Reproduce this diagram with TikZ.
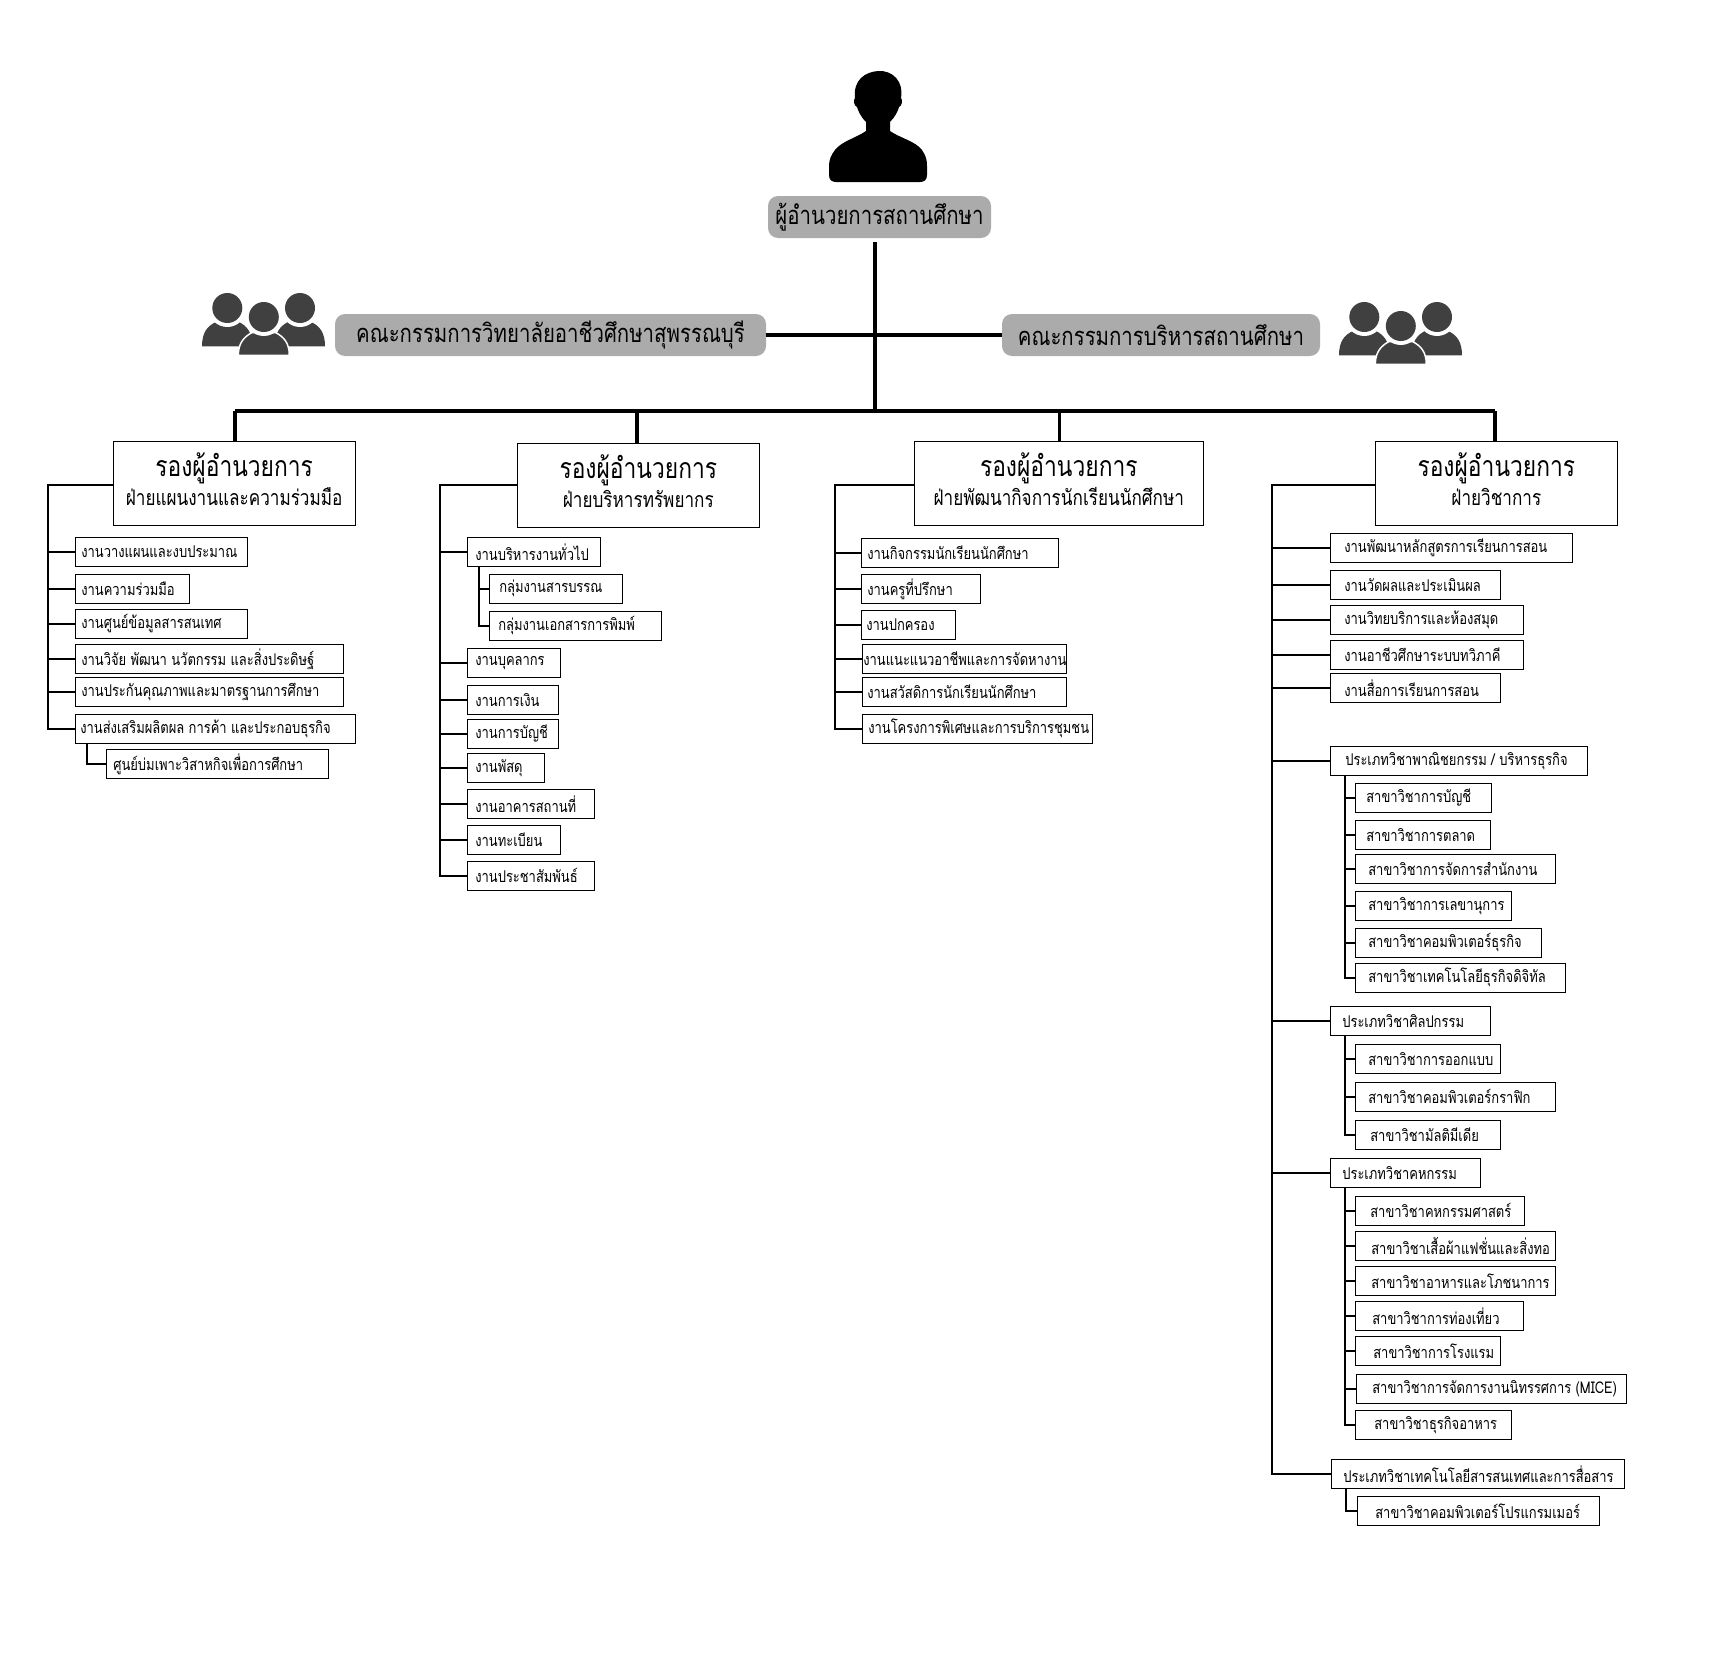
\documentclass[tikz,border=0pt]{standalone}
\usepackage{fontspec}
\newfontfamily\thaifont[Script=Thai,FakeStretch=0.8]{Loma}
\definecolor{boardgray}{HTML}{ABABAB}
\definecolor{peoplegray}{HTML}{404040}
\newcommand{\jobtext}[3]{\makebox[#1pt][l]{\hspace*{#2pt}#3}}
\tikzset{
	jobbox/.style={draw,line width=1pt,outer sep=0pt,inner sep=0pt,anchor=north west,minimum height=29pt,font=\thaifont\fontsize{16.2}{18}\selectfont},
	headbox/.style={draw,line width=1pt,outer sep=0pt,inner sep=0pt,anchor=north west,minimum height=84pt,align=center,text depth=7.5pt,font=\thaifont\fontsize{21.4}{29}\selectfont},
	boardbox/.style={fill=boardgray,rounded corners=10pt,outer sep=0pt,inner sep=0pt,anchor=north west,minimum height=42pt,font=\thaifont\fontsize{25.5}{28}\selectfont},
	mainline/.style={line width=3.3pt},
	branch/.style={line width=2.2pt},
	people/.pic={
		\fill[peoplegray] (0,53.3) .. controls (0,40) and (5,33) .. (14,29) -- (37,29) .. controls (45,33) and (50.6,40) .. (50.6,53.3) -- cycle;
		\fill[peoplegray] (72.7,53.3) .. controls (72.7,40) and (78,33) .. (86,29) -- (109,29) .. controls (118,33) and (123,40) .. (123,53.3) -- cycle;
		\fill[white] (25.3,15) circle (19);
		\fill[white] (98,15) circle (19);
		\fill[peoplegray] (25.3,15) circle (15);
		\fill[peoplegray] (98,15) circle (15);
		\filldraw[fill=peoplegray,draw=white,line width=1.5pt] (36.3,62.3) .. controls (36.3,50) and (42,44) .. (50,39.5) -- (73.5,39.5) .. controls (82,44) and (87.3,50) .. (87.3,62.3) -- cycle;
		\fill[white] (61.8,24) circle (19);
		\fill[peoplegray] (61.8,24) circle (15);
	}
}
\begin{document}
\begin{tikzpicture}[x=1pt,y=-1pt]
	\useasboundingbox (0,0) rectangle (1732,1675);
	% director
	\fill (866,122) .. controls (860,116) and (858,110) .. (857,107) .. controls (854,106) and (853,100) .. (855,98) .. controls (853,80) and (865,72) .. (878,71) .. controls (893,70) and (904,82) .. (901,98) .. controls (903,100) and (902,106) .. (899,107) .. controls (898,111) and (895,117) .. (890,122) -- (890,131) .. controls (900,138) and (915,141) .. (922,150) .. controls (926,156) and (927,160) .. (927,166) -- (927,175) .. controls (927,180) and (924,182) .. (920,182) -- (836,182) .. controls (832,182) and (829,180) .. (829,175) -- (829,166) .. controls (829,160) and (831,155) .. (835,150) .. controls (842,141) and (856,138) .. (866,131) -- cycle;
	\node[boardbox,minimum width=223pt] (director) at (768,196) {ผู้อำนวยการสถานศึกษา};
	% boards
	\node[boardbox,minimum width=431pt] (boardL) at (335,314) {คณะกรรมการวิทยาลัยอาชีวศึกษาสุพรรณบุรี};
	\node[boardbox,minimum width=318pt] (boardR) at (1002,314) {คณะกรรมการบริหารสถานศึกษา};
	\pic at (202,293) {people};
	\pic at (1339,302) {people};
	% spine
	\coordinate (spineTop) at (875,242);
	\coordinate (spineEnd) at (875,411);
	\coordinate (barL) at (235,411);
	\coordinate (barR) at (1495,411);
	\draw[mainline,line width=3.5pt] (spineTop) -- (spineEnd);
	\draw[mainline] (boardL.east) -- (boardR.west);
	\draw[mainline] (barL) -- (barR);
	% deputies
	\node[headbox,minimum width=241.7pt] (headA) at (113.3,441.3) {{\fontsize{28.5}{29}\selectfont รองผู้อำนวยการ}\\ฝ่ายแผนงานและความร่วมมือ};
	\node[headbox,minimum width=242pt] (headB) at (517.3,443.3) {{\fontsize{28.5}{29}\selectfont รองผู้อำนวยการ}\\ฝ่ายบริหารทรัพยากร};
	\node[headbox,minimum width=289pt] (headC) at (914.3,441.3) {{\fontsize{28.5}{29}\selectfont รองผู้อำนวยการ}\\ฝ่ายพัฒนากิจการนักเรียนนักศึกษา};
	\node[headbox,minimum width=242pt] (headD) at (1375.3,441.3) {{\fontsize{28.5}{29}\selectfont รองผู้อำนวยการ}\\ฝ่ายวิชาการ};
	\draw[mainline] (barL) -- (barL |- headA.north);
	\draw[mainline] (637,411) -- (637,443.3);
	\draw[mainline] (1059.5,411) -- (1059.5,441.3);
	\draw[mainline] (barR) -- (barR |- headD.north);
	% first column
	\node[jobbox] (a1) at (75.3,537.3) {\jobtext{172.4}{6}{งานวางแผนและงบประมาณ}};
	\node[jobbox] (a2) at (75.3,574.3) {\jobtext{114}{6}{งานความร่วมมือ}};
	\node[jobbox] (a3) at (75.3,609.3) {\jobtext{172.4}{6}{งานศูนย์ข้อมูลสารสนเทศ}};
	\node[jobbox] (a4) at (75.3,644.3) {\jobtext{268}{6}{งานวิจัย พัฒนา นวัตกรรม และสิ่งประดิษฐ์}};
	\node[jobbox] (a5) at (75.3,677.3) {\jobtext{268}{6}{งานประกันคุณภาพและมาตรฐานการศึกษา}};
	\node[jobbox] (a6) at (75.3,714.3) {\jobtext{280}{5}{งานส่งเสริมผลิตผล การค้า และประกอบธุรกิจ}};
	\node[jobbox] (a7) at (106.3,749.3) {\jobtext{222}{7}{ศูนย์บ่มเพาะวิสาหกิจเพื่อการศึกษา}};
	\coordinate (trunkA) at (48,0);
	\draw[branch] ([yshift=-1.7pt]headA.west) -| (trunkA |- a6.west) -- (a6.west);
	\draw[branch] (trunkA |- a1.west) -- (a1.west);
	\draw[branch] (trunkA |- a2.west) -- (a2.west);
	\draw[branch] (trunkA |- a3.west) -- (a3.west);
	\draw[branch] (trunkA |- a4.west) -- (a4.west);
	\draw[branch] (trunkA |- a5.west) -- (a5.west);
	\draw[branch] (87,743.3) |- (a7.west);
	% second column
	\node[jobbox] (b1) at (467.3,537.3) {\jobtext{133}{8}{งานบริหารงานทั่วไป}};
	\node[jobbox] (b1a) at (489.3,574.3) {\jobtext{133}{10}{กลุ่มงานสารบรรณ}};
	\node[jobbox] (b1b) at (489.3,611.3) {\jobtext{172}{9}{กลุ่มงานเอกสารการพิมพ์}};
	\node[jobbox] (b2) at (467.3,648.3) {\jobtext{93}{8}{งานบุคลากร}};
	\node[jobbox] (b3) at (467.3,685.3) {\jobtext{91}{8}{งานการเงิน}};
	\node[jobbox] (b4) at (467.3,719.3) {\jobtext{91}{8}{งานการบัญชี}};
	\node[jobbox] (b5) at (467.3,753.3) {\jobtext{77}{8}{งานพัสดุ}};
	\node[jobbox] (b6) at (467.3,789.3) {\jobtext{127}{8}{งานอาคารสถานที่}};
	\node[jobbox] (b7) at (467.3,825.3) {\jobtext{93}{8}{งานทะเบียน}};
	\node[jobbox] (b8) at (467.3,861.3) {\jobtext{127}{8}{งานประชาสัมพันธ์}};
	\coordinate (trunkB) at (440,0);
	\coordinate (twigB) at (479,0);
	\draw[branch] (headB.west) -| (trunkB |- b8.west) -- (b8.west);
	\draw[branch] (trunkB |- b1.west) -- (b1.west);
	\draw[branch] (trunkB |- b2.west) -- (b2.west);
	\draw[branch] (trunkB |- b3.west) -- (b3.west);
	\draw[branch] (trunkB |- b4.west) -- (b4.west);
	\draw[branch] (trunkB |- b5.west) -- (b5.west);
	\draw[branch] (trunkB |- b6.west) -- (b6.west);
	\draw[branch] (trunkB |- b7.west) -- (b7.west);
	\draw[branch] (twigB |- b1.south) |- (b1b.west);
	\draw[branch] (twigB |- b1a.west) -- (b1a.west);
	% third column
	\node[jobbox] (c1) at (861.3,538.3) {\jobtext{197.4}{6}{งานกิจกรรมนักเรียนนักศึกษา}};
	\node[jobbox] (c2) at (861.3,574.3) {\jobtext{119}{6}{งานครูที่ปรึกษา}};
	\node[jobbox] (c3) at (861.3,610.3) {\jobtext{94}{5}{งานปกครอง}};
	\node[jobbox] (c4) at (862.3,644.3) {\jobtext{204.4}{1}{งานแนะแนวอาชีพและการจัดหางาน}};
	\node[jobbox] (c5) at (862.3,677.3) {\jobtext{204.4}{5}{งานสวัสดิการนักเรียนนักศึกษา}};
	\node[jobbox] (c6) at (862.3,714.3) {\jobtext{230}{6}{งานโครงการพิเศษและการบริการชุมชน}};
	\coordinate (trunkC) at (835,0);
	\draw[branch] ([yshift=-1.7pt]headC.west) -| (trunkC |- c6.west) -- (c6.west);
	\draw[branch] (trunkC |- c1.west) -- (c1.west);
	\draw[branch] (trunkC |- c2.west) -- (c2.west);
	\draw[branch] (trunkC |- c3.west) -- (c3.west);
	\draw[branch] (trunkC |- c4.west) -- (c4.west);
	\draw[branch] (trunkC |- c5.west) -- (c5.west);
	% fourth column
	\node[jobbox] (d1) at (1330.3,533.3) {\jobtext{242.4}{14}{งานพัฒนาหลักสูตรการเรียนการสอน}};
	\node[jobbox] (d2) at (1330.3,570.3) {\jobtext{170}{14}{งานวัดผลและประเมินผล}};
	\node[jobbox] (d3) at (1330.3,605.3) {\jobtext{193}{14}{งานวิทยบริการและห้องสมุด}};
	\node[jobbox] (d4) at (1330.3,640.3) {\jobtext{193}{14}{งานอาชีวศึกษาระบบทวิภาคี}};
	\node[jobbox] (d5) at (1330.3,673.3) {\jobtext{170}{14}{งานสื่อการเรียนการสอน}};
	\node[jobbox] (typeBiz) at (1330.3,746.3) {\jobtext{257}{15}{ประเภทวิชาพาณิชยกรรม / บริหารธุรกิจ}};
	\node[jobbox] (biz1) at (1355.3,783.3) {\jobtext{136}{11}{สาขาวิชาการบัญชี}};
	\node[jobbox] (biz2) at (1355.3,820.3) {\jobtext{135}{11}{สาขาวิชาการตลาด}};
	\node[jobbox] (biz3) at (1355.3,854.3) {\jobtext{200}{13}{สาขาวิชาการจัดการสำนักงาน}};
	\node[jobbox] (biz4) at (1355.3,891.3) {\jobtext{156}{13}{สาขาวิชาการเลขานุการ}};
	\node[jobbox] (biz5) at (1355.3,928.3) {\jobtext{186}{13}{สาขาวิชาคอมพิวเตอร์ธุรกิจ}};
	\node[jobbox] (biz6) at (1355.3,963.3) {\jobtext{210}{13}{สาขาวิชาเทคโนโลยีธุรกิจดิจิทัล}};
	\node[jobbox] (typeArt) at (1330.3,1006.3) {\jobtext{160}{12}{ประเภทวิชาศิลปกรรม}};
	\node[jobbox] (art1) at (1355.3,1044.3) {\jobtext{145}{13}{สาขาวิชาการออกแบบ}};
	\node[jobbox] (art2) at (1355.3,1082.3) {\jobtext{200}{13}{สาขาวิชาคอมพิวเตอร์กราฟิก}};
	\node[jobbox] (art3) at (1355.3,1120.3) {\jobtext{145}{15}{สาขาวิชามัลติมีเดีย}};
	\node[jobbox] (typeHome) at (1330.3,1158.3) {\jobtext{150}{12}{ประเภทวิชาคหกรรม}};
	\node[jobbox] (home1) at (1355.3,1196.3) {\jobtext{169}{15}{สาขาวิชาคหกรรมศาสตร์}};
	\node[jobbox] (home2) at (1355.3,1231.3) {\jobtext{200}{16}{สาขาวิชาเสื้อผ้าแฟชั่นและสิ่งทอ}};
	\node[jobbox] (home3) at (1355.3,1266.3) {\jobtext{200}{16}{สาขาวิชาอาหารและโภชนาการ}};
	\node[jobbox] (home4) at (1355.3,1301.3) {\jobtext{168}{17}{สาขาวิชาการท่องเที่ยว}};
	\node[jobbox] (home5) at (1355.3,1336.3) {\jobtext{145}{18}{สาขาวิชาการโรงแรม}};
	\node[jobbox] (home6) at (1356.3,1374.3) {\jobtext{270}{16}{สาขาวิชาการจัดการงานนิทรรศการ (MICE)}};
	\node[jobbox] (home7) at (1355.3,1410.3) {\jobtext{156}{19}{สาขาวิชาธุรกิจอาหาร}};
	\node[jobbox] (typeTech) at (1331.3,1459.3) {\jobtext{293}{12}{ประเภทวิชาเทคโนโลยีสารสนเทศและการสื่อสาร}};
	\node[jobbox] (tech1) at (1357.3,1496.3) {\jobtext{242}{18}{สาขาวิชาคอมพิวเตอร์โปรแกรมเมอร์}};
	\coordinate (trunkD) at (1272,0);
	\coordinate (twigD) at (1345,0);
	\draw[branch] ([yshift=-1.7pt]headD.west) -| (trunkD |- typeTech.west) -- (typeTech.west);
	\draw[branch] (trunkD |- d1.west) -- (d1.west);
	\draw[branch] (trunkD |- d2.west) -- (d2.west);
	\draw[branch] (trunkD |- d3.west) -- (d3.west);
	\draw[branch] (trunkD |- d4.west) -- (d4.west);
	\draw[branch] (trunkD |- d5.west) -- (d5.west);
	\draw[branch] (trunkD |- typeBiz.west) -- (typeBiz.west);
	\draw[branch] (trunkD |- typeArt.west) -- (typeArt.west);
	\draw[branch] (trunkD |- typeHome.west) -- (typeHome.west);
	\draw[branch] (twigD |- typeBiz.south) |- (biz6.west);
	\draw[branch] (twigD |- biz1.west) -- (biz1.west);
	\draw[branch] (twigD |- biz2.west) -- (biz2.west);
	\draw[branch] (twigD |- biz3.west) -- (biz3.west);
	\draw[branch] (twigD |- biz4.west) -- (biz4.west);
	\draw[branch] (twigD |- biz5.west) -- (biz5.west);
	\draw[branch] (twigD |- typeArt.south) |- (art3.west);
	\draw[branch] (twigD |- art1.west) -- (art1.west);
	\draw[branch] (twigD |- art2.west) -- (art2.west);
	\draw[branch] (twigD |- typeHome.south) |- (home7.west);
	\draw[branch] (twigD |- home1.west) -- (home1.west);
	\draw[branch] (twigD |- home2.west) -- (home2.west);
	\draw[branch] (twigD |- home3.west) -- (home3.west);
	\draw[branch] (twigD |- home4.west) -- (home4.west);
	\draw[branch] (twigD |- home5.west) -- (home5.west);
	\draw[branch] (twigD |- home6.west) -- (home6.west);
	\draw[branch] (1346,1488.3) |- (tech1.west);
\end{tikzpicture}
\end{document}
